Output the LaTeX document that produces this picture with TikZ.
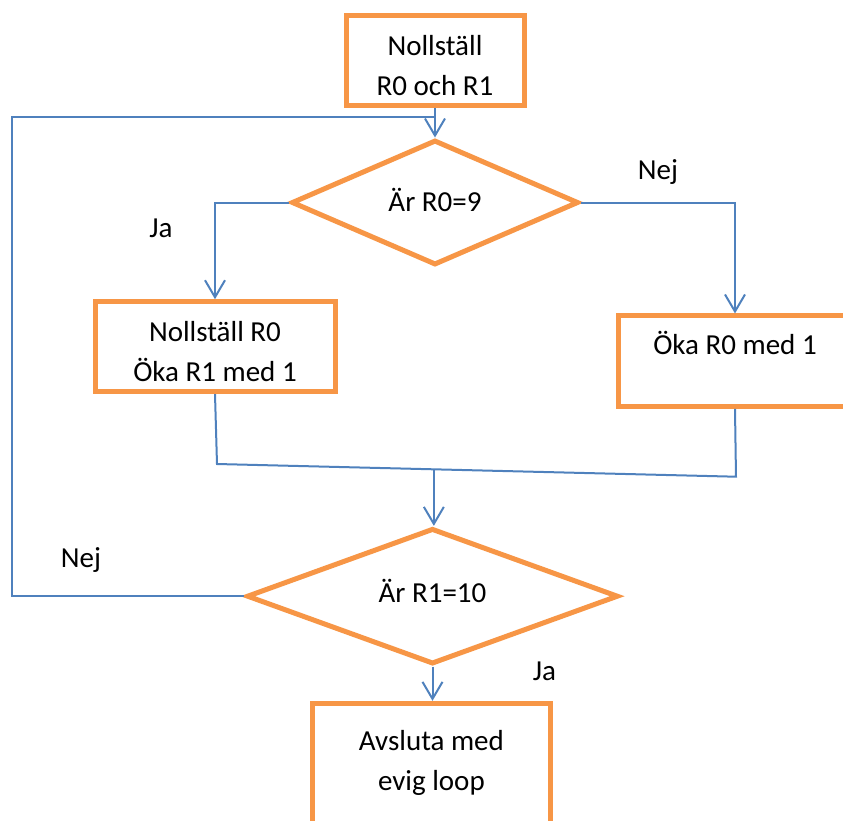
\documentclass[tikz,border=0pt]{standalone}
\usepackage{fontspec}
\setmainfont{Carlito}
\usetikzlibrary{
	arrows.meta,
	calc,
	positioning,
	shapes.geometric,
	}
\definecolor{boxorange}{HTML}{F79646}
\definecolor{lineblue}{HTML}{4F81BD}
\newcommand{\boxlines}[1]{\begin{tabular}[t]{@{}c@{}}#1\end{tabular}}
\tikzset{
	stepbox/.style={draw=boxorange, line width=2.5pt, fill=white, rectangle, inner sep=0pt},
	choice/.style={draw=boxorange, line width=2.5pt, fill=white, diamond, inner sep=0pt},
	flow/.style={draw=lineblue, line width=1pt},
	flowarrow/.style={flow, -{Straight Barb[length=8.5pt, width=10pt]}},
	answer/.style={anchor=base, inner sep=0pt},
	}

\begin{document}
\begin{tikzpicture}[x=0.5pt, y=-0.5pt, font=\fontsize{14.5}{20}\selectfont]
		\useasboundingbox (0,0) rectangle (843,821);
		\clip (0,0) rectangle (843,821);
		% boxes and questions
		\node[stepbox, minimum width=89pt, text height=19.75pt, text depth=25.25pt] (start) at (435,60.5) {\boxlines{Nollställ\\R0 och R1}};
		\node[choice, minimum width=143.5pt, minimum height=62.5pt, text height=12pt, text depth=2.8pt] (d1) at (435,202.5) {Är R0=9};
		\node[stepbox, minimum width=120pt, text height=20pt, text depth=25pt] (nollstall) at (215,346.7) {\boxlines{Nollställ R0\\Öka R1 med 1}};
		\node[stepbox, minimum width=117pt, text height=19.5pt, text depth=25.75pt] (oka) at (735,361.2) {Öka R0 med 1};
		\node[choice, minimum width=185.8pt, minimum height=67.85pt, text height=10pt, text depth=3.5pt] (d2) at (432.5,596.2) {Är R1=10};
		\node[stepbox, minimum width=119pt, text height=23.35pt, text depth=45pt] (avsluta) at (431.4,771.7) {\boxlines{Avsluta med\\evig loop}};
		% answers
		\node[answer] (ja1) at (161,237) {Ja};
		\node[answer] (nej1) at (658,179) {Nej};
		\node[answer] (nej2) at (81,567.7) {Nej};
		\node[answer] (ja2) at (544.5,680) {Ja};
		% connectors
		\coordinate (loopcorner) at (12,117);
		\coordinate (mergeleft) at (217,464);
		\coordinate (mergeright) at (736,476.7);
		\coordinate (mergemid) at ($(mergeleft)!(d2.north)!(mergeright)$);
		\draw[flowarrow] (start) -- (d1);
		\draw[flow] (d2.west) -| (loopcorner) -- (loopcorner -| start.south);
		\draw[flowarrow] (d1.west) -| (nollstall.north);
		\draw[flowarrow] (d1.east) -| (oka.north);
		\draw[flow] (nollstall.south) -- (mergeleft) -- (mergeright) -- (oka.south);
		\draw[flowarrow] (mergemid) -- (mergemid |- d2.north);
		\draw[flowarrow] (d2.south) -- (d2.south |- avsluta.north);
	\end{tikzpicture}
\end{document}
